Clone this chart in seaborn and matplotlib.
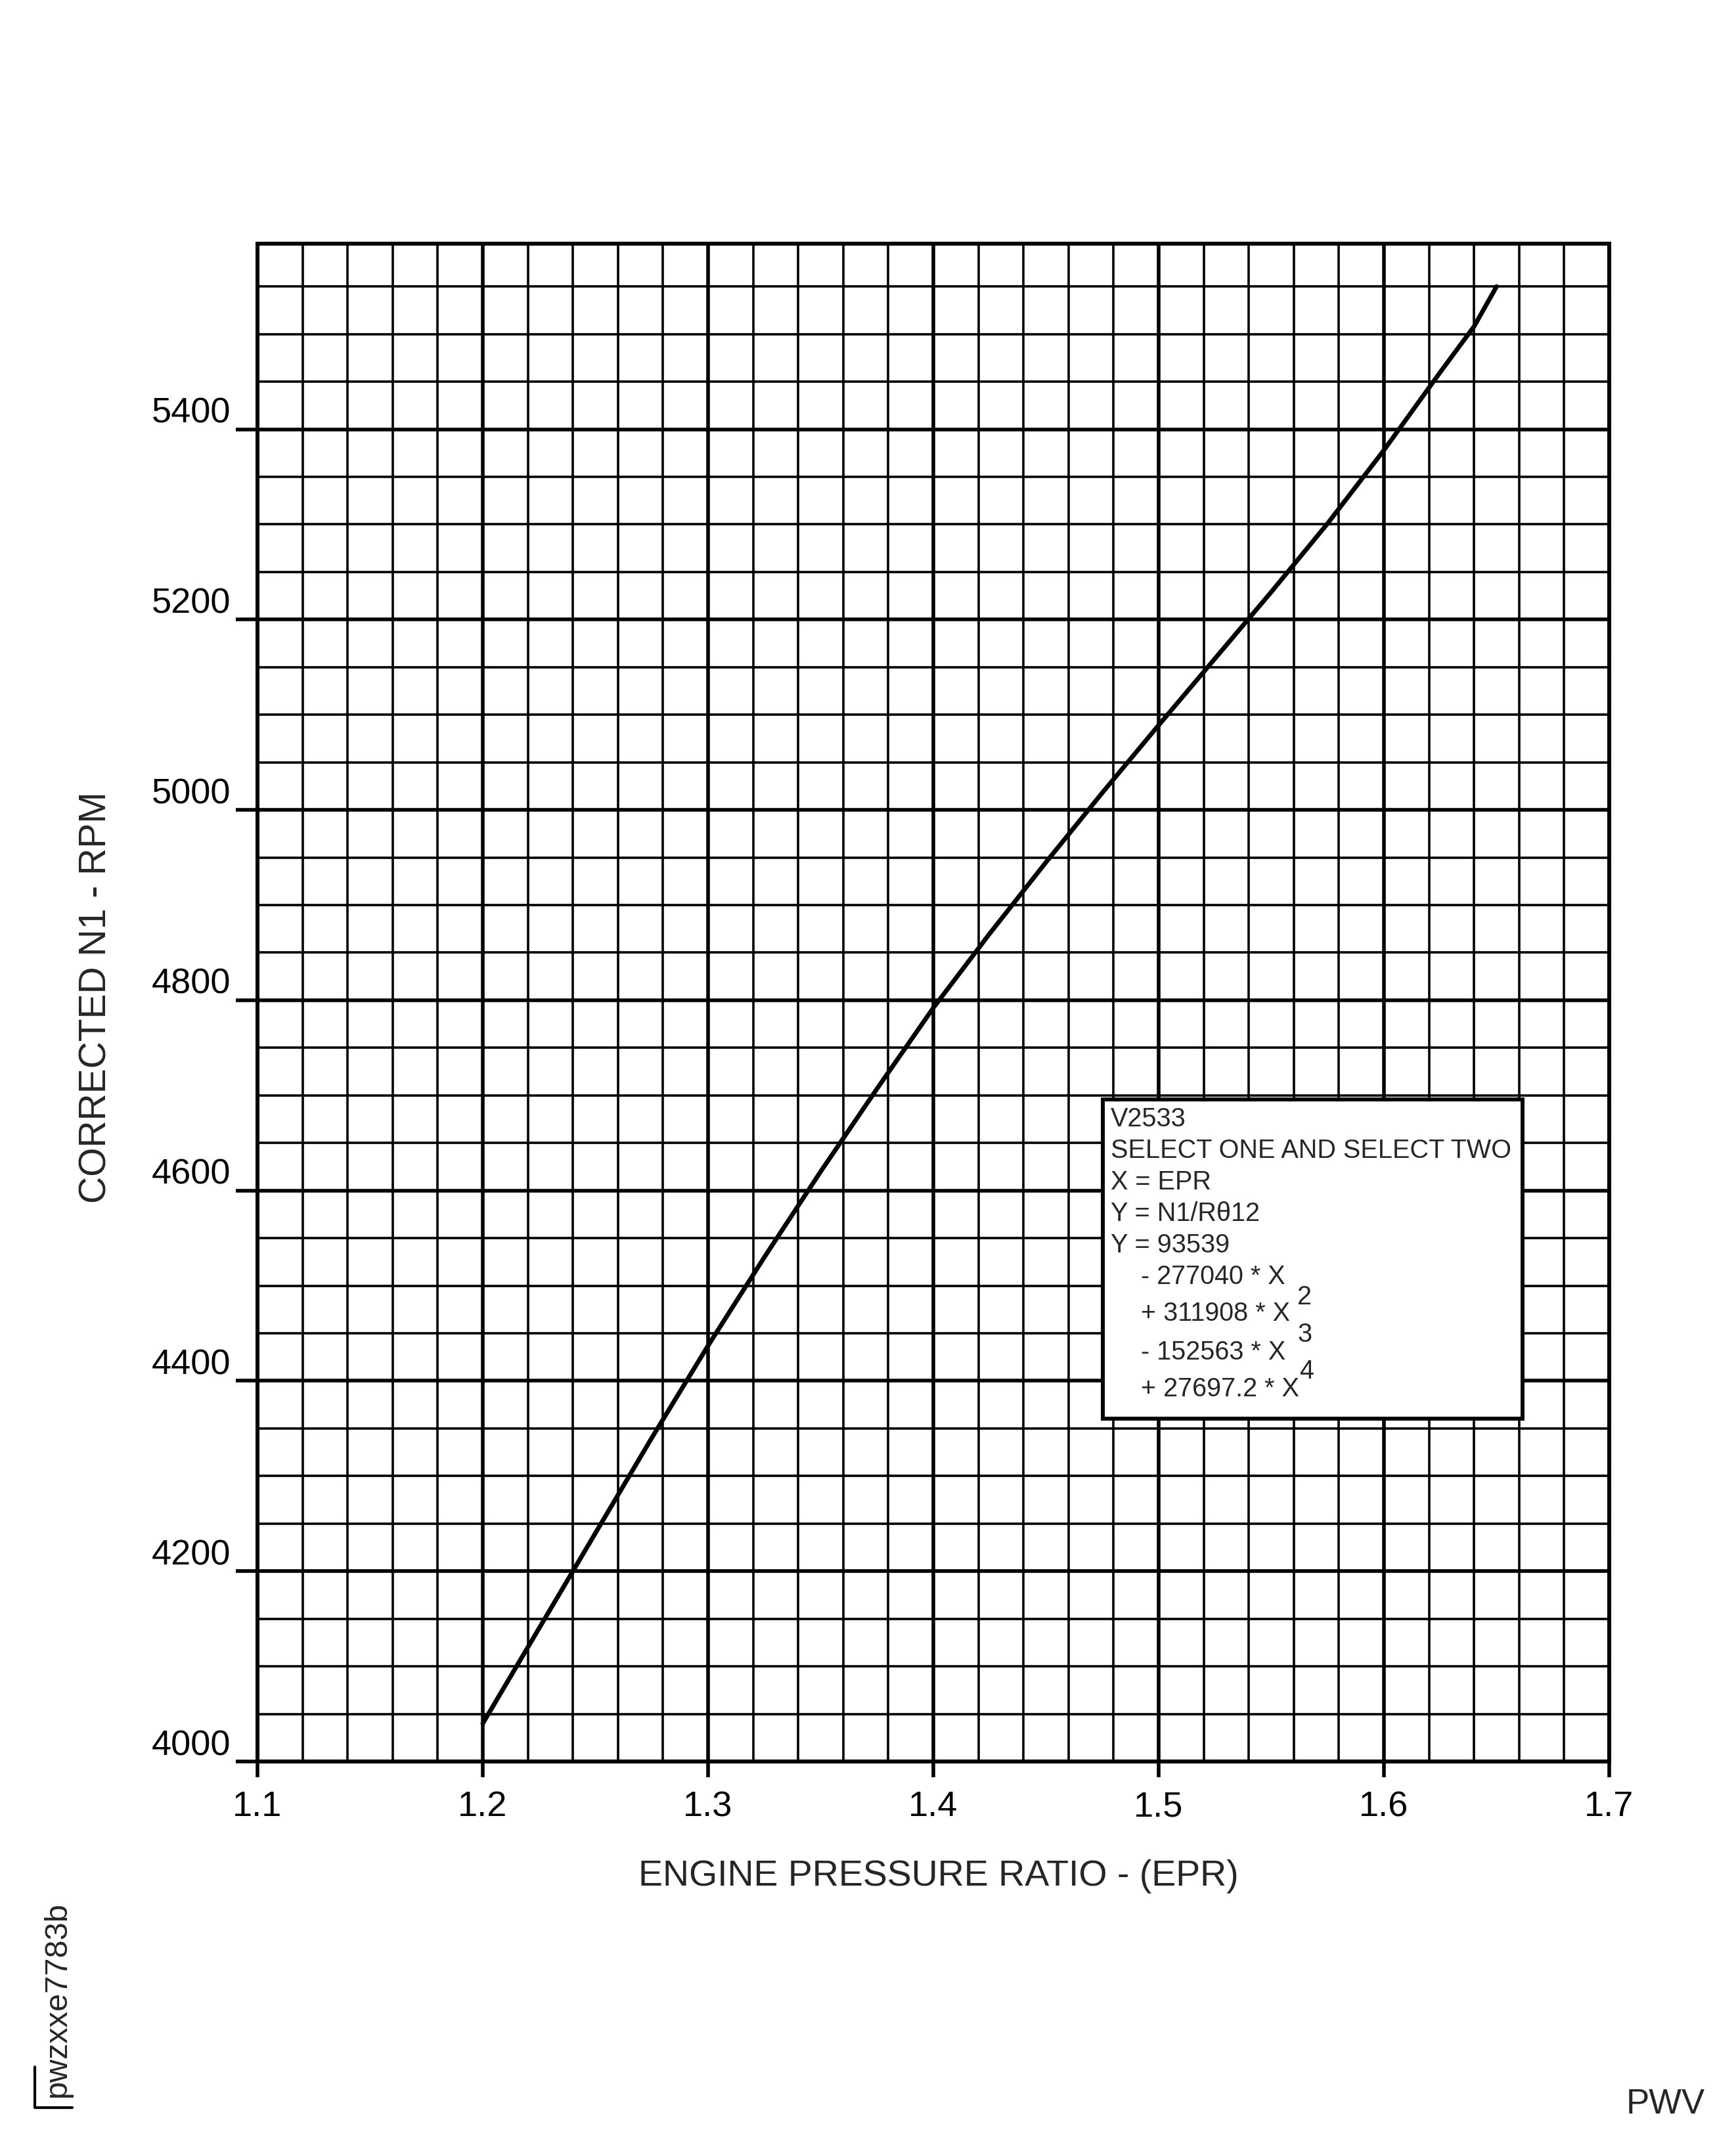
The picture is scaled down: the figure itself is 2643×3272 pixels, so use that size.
import matplotlib
matplotlib.use('Agg')
import matplotlib.pyplot as plt
from matplotlib.ticker import MultipleLocator
from matplotlib.patches import Rectangle
from matplotlib.lines import Line2D
import seaborn as sns

# curve: EPR vs corrected N1
epr = [1.200, 1.225, 1.250, 1.275, 1.300, 1.325, 1.350, 1.375, 1.400, 1.425,
       1.450, 1.475, 1.500, 1.525, 1.550, 1.575, 1.600, 1.625, 1.640, 1.650]
n1 = [4040, 4140, 4240, 4340, 4437, 4530, 4620, 4707, 4792, 4870,
      4945, 5018, 5089, 5159, 5229, 5301, 5378, 5460, 5508, 5550]

x_ticks = [1.1, 1.2, 1.3, 1.4, 1.5, 1.6, 1.7]
y_ticks = [4000, 4200, 4400, 4600, 4800, 5000, 5200, 5400]

box_lines = [
    'V2533',
    'SELECT ONE AND SELECT TWO',
    'X = EPR',
    'Y = N1/R\u03b812',
    'Y = 93539',
]
term_lines = ['- 277040 * X', '+ 311908 * X', '- 152563 * X', '+ 27697.2 * X']
term_powers = ['', '2', '3', '4']

sns.set_style('white')
plt.rcParams['font.family'] = ['Liberation Sans', 'DejaVu Sans']

W, H = 2643, 3273
fig = plt.figure(figsize=(W / 100, H / 100), dpi=100)
ax = fig.add_axes([392 / W, 1 - 2683 / H, 2058 / W, 2311 / H])

sns.lineplot(x=epr, y=n1, color='black', linewidth=5, ax=ax, zorder=3)

ax.set_xlim(1.1, 1.7)
ax.set_ylim(4000, 5595)
ax.set_xticks(x_ticks)
ax.set_yticks(y_ticks)
ax.set_xticklabels([f'{v:.1f}' for v in x_ticks])
ax.set_yticklabels([str(v) for v in y_ticks])
ax.xaxis.set_minor_locator(MultipleLocator(0.02))
ax.yaxis.set_minor_locator(MultipleLocator(50))

ax.grid(which='major', color='black', linewidth=4.0)
ax.grid(which='minor', color='black', linewidth=2.6)
ax.set_axisbelow(True)

ax.tick_params(axis='x', which='major', direction='out', length=17, width=4.0,
               pad=14, labelsize=39, colors='black', bottom=True)
ax.tick_params(axis='y', which='major', direction='out', length=24, width=4.0,
               pad=5, labelsize=39, colors='black', left=True)
ax.tick_params(which='minor', length=0)
for lab in ax.get_yticklabels():
    lab.set_verticalalignment('bottom')

for sp in ax.spines.values():
    sp.set_color('black')
    sp.set_linewidth(4.3)
    sp.set_visible(True)

ax.set_xlabel('')
ax.set_ylabel('')
fig.text(1429 / W, 1 - 2871 / H, 'ENGINE PRESSURE RATIO - (EPR)', fontsize=40,
         ha='center', va='baseline')
fig.text(162 / W, 1 - 1519 / H, 'CORRECTED N1 - RPM', fontsize=41, rotation=90,
         rotation_mode='anchor', ha='center', va='baseline')

# equation box
ax.add_patch(Rectangle((0.6254, 0.2259), 0.3105, 0.2103, transform=ax.transAxes,
                       facecolor='white', edgecolor='black', linewidth=4.3, zorder=5))
line_y = [0.4236, 0.4029, 0.3821, 0.3613, 0.3405]
for txt, yy in zip(box_lines, line_y):
    ax.text(0.6312, yy, txt, transform=ax.transAxes, fontsize=28.5,
            ha='left', va='center', zorder=6)
term_y = [0.3198, 0.2955, 0.2700, 0.2458]
sup_y = [None, 0.3064, 0.2817, 0.2575]
sup_x = [None, 0.7692, 0.7692, 0.7707]
for txt, p, yy, sy, sx in zip(term_lines, term_powers, term_y, sup_y, sup_x):
    ax.text(0.6535, yy, txt, transform=ax.transAxes, fontsize=28.5,
            ha='left', va='center', zorder=6)
    if p:
        ax.text(sx, sy, p, transform=ax.transAxes, fontsize=28.5,
                ha='left', va='center', zorder=6)

# figure id and corner marks
fig.text(100 / W, 1 - 3193 / H, 'pwzxxe7783b', fontsize=35, rotation=90,
         rotation_mode='anchor', ha='left', va='baseline')
fig.add_artist(Line2D([53 / W, 53 / W, 110 / W], [1 - 3148 / H, 1 - 3210 / H, 1 - 3210 / H],
                      color='black', linewidth=3))
fig.text(2476 / W, 1 - 3218 / H, 'PWV', fontsize=38, ha='left', va='baseline')

fig.savefig('out.png', dpi=100, facecolor='white')
